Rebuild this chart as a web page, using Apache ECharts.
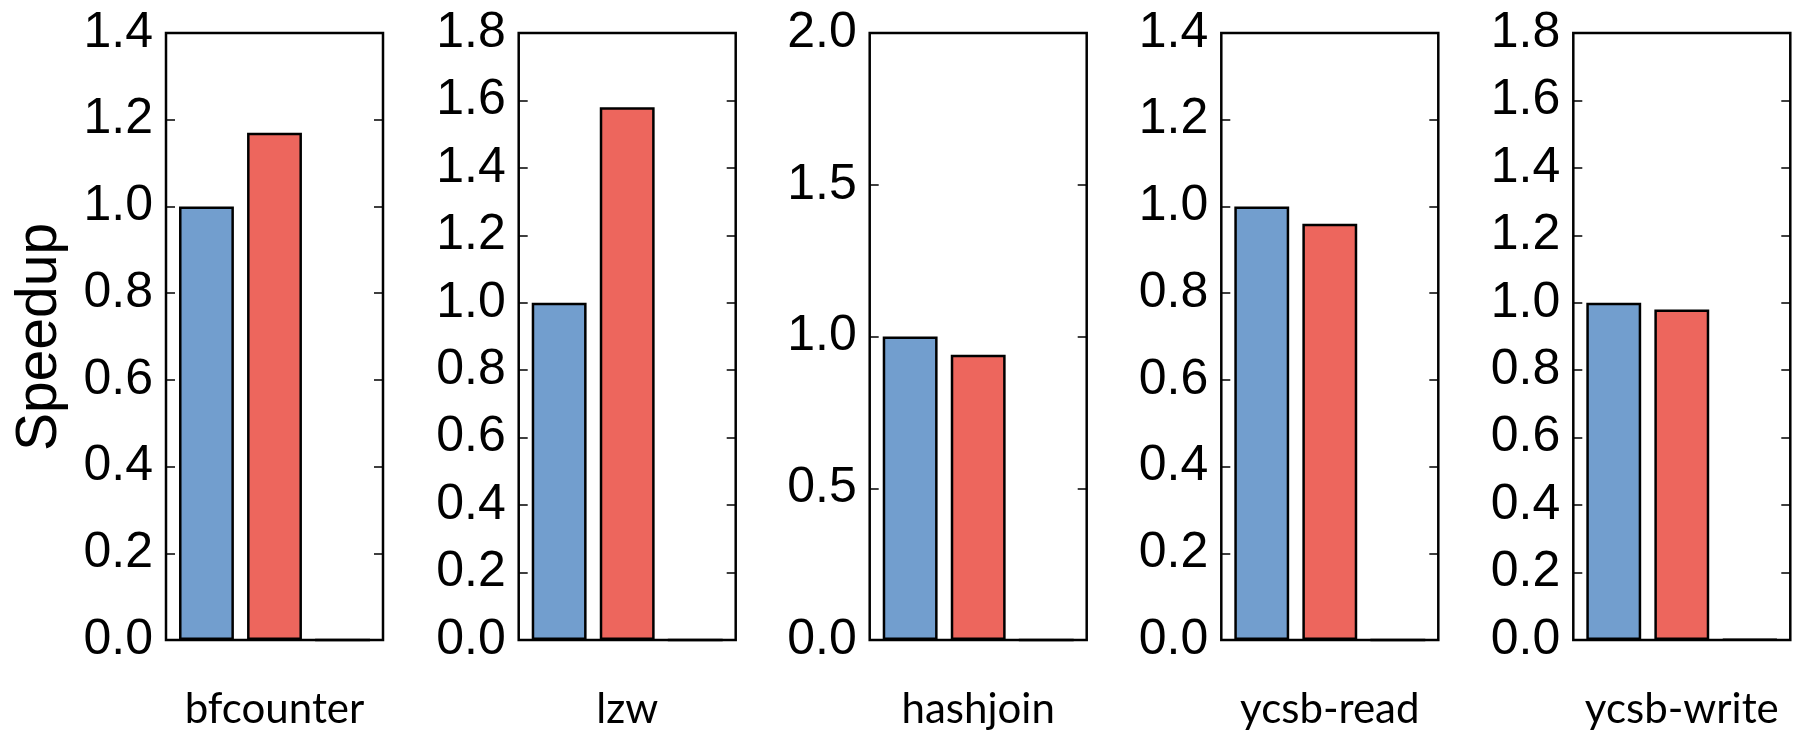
<!DOCTYPE html>
<html>
<head>
<meta charset="utf-8">
<script src="https://cdn.jsdelivr.net/npm/echarts@6/dist/echarts.min.js"></script>
<style>
  html, body { margin: 0; padding: 0; background: #fff; }
  #chart { width: 1798px; height: 732px; }
</style>
</head>
<body>
<div id="chart"></div>
<script>
// ---- data ----
const categories = ['bfcounter', 'lzw', 'hashjoin', 'ycsb-read', 'ycsb-write'];
const baselineSpeedup = [1.0, 1.0, 1.0, 1.0, 1.0];
const optimizedSpeedup = [1.17, 1.58, 0.94, 0.96, 0.98];
const thirdSpeedup = [0, 0, 0, 0, 0.002];
const yMax = [1.4, 1.8, 2.0, 1.4, 1.8];
const yStep = [0.2, 0.2, 0.5, 0.2, 0.2];
const yAxisTitle = 'Speedup';

// ---- layout ----
const gridLefts = [166, 518.7, 869.7, 1221.3, 1573.3];
const gridWidth = 217;
const gridTop = 33;
const gridHeight = 607;

const colors = ['#729ECE', '#ED665D', '#67BF5C'];
const seriesValues = [baselineSpeedup, optimizedSpeedup, thirdSpeedup];

const grids = [], xAxes = [], yAxes = [], series = [];
categories.forEach((cat, i) => {
  grids.push({
    left: gridLefts[i], top: gridTop, width: gridWidth, height: gridHeight,
    show: true, borderColor: '#000', borderWidth: 2.5, backgroundColor: 'transparent'
  });
  xAxes.push({
    type: 'category', gridIndex: i, data: [cat],
    axisLine: { show: false }, axisTick: { show: false },
    axisLabel: {
      margin: 69, verticalAlign: 'middle', color: '#000',
      fontFamily: 'Lato', fontSize: 42
    }
  });
  const yCommon = {
    type: 'value', gridIndex: i, min: 0, max: yMax[i], interval: yStep[i],
    splitLine: { show: false }, axisLine: { show: false },
    axisTick: { show: true, inside: true, length: 9, lineStyle: { color: '#000', width: 1.5 } }
  };
  yAxes.push(Object.assign({}, yCommon, {
    position: 'left',
    axisLabel: {
      show: true, margin: 13, color: '#000',
      fontFamily: 'Liberation Sans', fontSize: 50,
      formatter: v => v.toFixed(1)
    }
  }));
  yAxes.push(Object.assign({}, yCommon, {
    position: 'right',
    axisLabel: { show: false }
  }));
  seriesValues.forEach((vals, s) => {
    series.push({
      type: 'bar', xAxisIndex: i, yAxisIndex: 2 * i,
      data: [vals[i]],
      barGap: '24%', barCategoryGap: '12%',
      itemStyle: { color: colors[s], borderColor: '#000', borderWidth: 2.5 },
      silent: true, animation: false
    });
  });
});

const chart = echarts.init(document.getElementById('chart'), null, { renderer: 'canvas' });
chart.setOption({
  backgroundColor: '#fff',
  animation: false,
  grid: grids,
  xAxis: xAxes,
  yAxis: yAxes,
  series: series,
  graphic: [{
    type: 'text',
    x: 40, y: 337,
    rotation: Math.PI / 2,
    style: {
      text: yAxisTitle,
      fontFamily: 'Liberation Sans', fontSize: 57,
      fill: '#000', textAlign: 'center', textVerticalAlign: 'middle'
    }
  }]
});
</script>
</body>
</html>
